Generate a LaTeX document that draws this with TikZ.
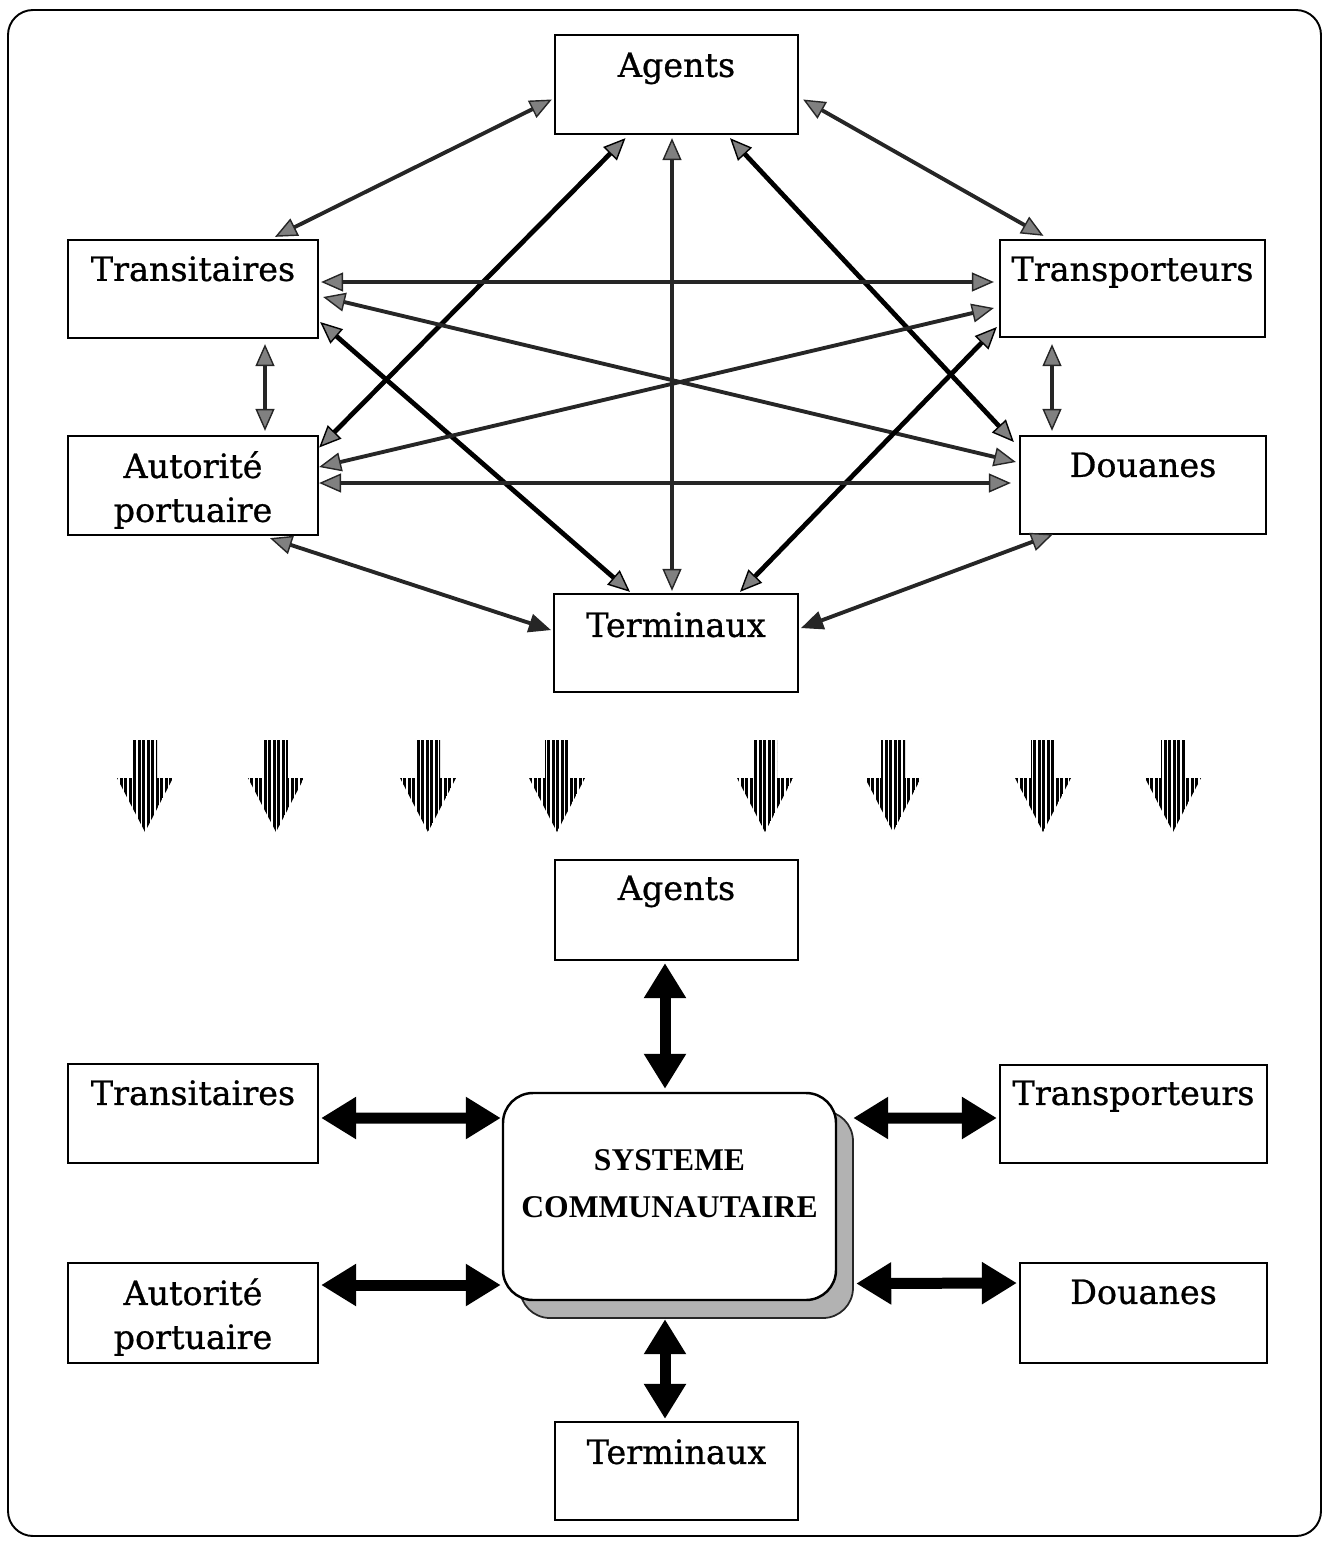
\documentclass[tikz,border=0pt]{standalone}
\usepackage{fontspec}
\newfontfamily\boxfont{DejaVu Serif}[FakeBold=0.8]
\newfontfamily\sysfont{Liberation Serif}
\usetikzlibrary{arrows.meta,fit,patterns.meta,shadows}

\tikzset{
  gtip/.tip={Triangle[length=0.44cm,width=0.38cm,fill=black!50,line width=0.8pt]},
  ktip/.tip={Triangle[length=0.44cm,width=0.38cm,line width=0.8pt]},
  bigtip/.tip={Triangle[length=0.7cm,width=0.8cm]},
  actor/.style={draw, line width=1.3pt, inner sep=0pt},
  lbl/.style={font=\boxfont\fontsize{19}{25}\selectfont, align=center, inner sep=0pt, anchor=base},
  systxt/.style={font=\sysfont\bfseries\fontsize{18}{27}\selectfont, align=center, inner sep=0pt, anchor=base},
  link/.style={gtip-gtip, line width=2.2pt, draw=black!85},
  heavylink/.style={gtip-gtip, line width=2.7pt, draw=black},
  biglink/.style={bigtip-bigtip, line width=0.22cm},
  stripedarrow/.pic={
    \fill[pattern={Lines[angle=90,distance=0.09cm,line width=0.06cm]}]
      (-12,0) -- (12,0) -- (12,38) -- (28,38) -- (0,92) -- (-28,38) -- (-12,38) -- cycle;
  }
}

\begin{document}
\begin{tikzpicture}[x=0.02cm,y=-0.02cm]
\useasboundingbox (0,0) rectangle (1325,1542);

% outer frame
\draw[line width=1.1pt, rounded corners=0.5cm] (8,10) rectangle (1321,1536);

% ---------- mesh of bilateral exchanges ----------
\node[actor, fit={(555,35)(798,134)}]   (agA) {};
\node[actor, fit={(68,240)(318,338)}]   (trA) {};
\node[actor, fit={(1000,240)(1265,337)}] (tpA) {};
\node[actor, fit={(68,436)(318,535)}]   (auA) {};
\node[actor, fit={(1020,436)(1266,534)}] (doA) {};
\node[actor, fit={(554,594)(798,692)}]  (teA) {};

% (for two-line labels the base anchor sits on the last line)
\node[lbl] (agAt) at ([shift={(0,43)}]agA.north) {Agents};
\node[lbl] (trAt) at ([shift={(0,42)}]trA.north) {Transitaires};
\node[lbl] (tpAt) at ([shift={(0,42)}]tpA.north) {Transporteurs};
\node[lbl] (auAt) at ([shift={(0,87)}]auA.north) {Autorité\\portuaire};
\node[lbl] (doAt) at ([shift={(0,42)}]doA.north) {Douanes};
\node[lbl] (teAt) at ([shift={(0,44)}]teA.north) {Terminaux};

\draw[link]      ([shift={(-2,15)}]agA.west)    -- ([shift={(82,-2)}]trA.north);
\draw[link]      ([shift={(4,15)}]agA.east)     -- ([shift={(-89,-3)}]tpA.north);
\draw[heavylink] ([shift={(-51,3)}]agA.south)   -- ([shift={(0,-38)}]auA.east);
\draw[link]      ([shift={(-4.5,3)}]agA.south)  -- ([shift={(-4,-2)}]teA.north);
\draw[heavylink] ([shift={(53.5,3)}]agA.south)  -- ([shift={(-5,-43)}]doA.west);
\draw[link]      ([shift={(2,-7)}]trA.east)     -- ([shift={(-5,-6.5)}]tpA.west);
\draw[link]      ([shift={(4,8)}]trA.east)      -- ([shift={(-3,-23)}]doA.west);
\draw[heavylink] ([shift={(1,33)}]trA.east)     -- ([shift={(-46,-1)}]teA.north);
\draw[link]      ([shift={(72,5)}]trA.south)    -- ([shift={(72,-4)}]auA.north);
\draw[link]      ([shift={(-5,19.5)}]tpA.west)  -- ([shift={(0,-18.5)}]auA.east);
\draw[heavylink] ([shift={(-2,38.5)}]tpA.west)  -- ([shift={(64,-1)}]teA.north);
\draw[link]      ([shift={(-80.5,6)}]tpA.south) -- ([shift={(-91,-4)}]doA.north);
\draw[link]      ([shift={(0,-2.5)}]auA.east)   -- ([shift={(-8,-2)}]doA.west);
\draw[link, gtip-ktip] ([shift={(77,2)}]auA.south) -- ([shift={(-2,-13)}]teA.west);
\draw[link, gtip-ktip] ([shift={(-90,-1)}]doA.south) -- ([shift={(2,-15)}]teA.east);

% ---------- transition arrows ----------
\foreach \xx in {145,276,428,557,765,893,1043,1173}
  \pic at (\xx,740) {stripedarrow};

% ---------- community system ----------
\node[actor, fit={(555,860)(798,960)}]    (agB) {};
\node[actor, fit={(68,1064)(318,1163)}]   (trB) {};
\node[actor, fit={(1000,1065)(1267,1163)}] (tpB) {};
\node[actor, fit={(68,1263)(318,1363)}]   (auB) {};
\node[actor, fit={(1020,1263)(1267,1363)}] (doB) {};
\node[actor, fit={(555,1422)(798,1520)}]  (teB) {};

\node[lbl] (agBt) at ([shift={(0,41)}]agB.north) {Agents};
\node[lbl] (trBt) at ([shift={(0,42)}]trB.north) {Transitaires};
\node[lbl] (tpBt) at ([shift={(0,41)}]tpB.north) {Transporteurs};
\node[lbl] (auBt) at ([shift={(0,87)}]auB.north) {Autorité\\portuaire};
\node[lbl] (doBt) at ([shift={(0,42)}]doB.north) {Douanes};
\node[lbl] (teBt) at ([shift={(0,43)}]teB.north) {Terminaux};

\node[actor, line width=1.4pt, fill=white, rounded corners=0.6cm,
      drop shadow={shadow xshift=0.34cm, shadow yshift=-0.36cm, fill=gray!60, draw=black!85, line width=1pt, opacity=1},
      fit={(503,1093)(836,1300)}] (sys) {};
\node[systxt] (syst) at ([shift={(0,126)}]sys.north) {SYSTEME\\COMMUNAUTAIRE};

\draw[biglink] ([shift={(-11.5,2)}]agB.south) -- ([shift={(-4.5,-3)}]sys.north);
\draw[biglink] ([shift={(2,4.5)}]trB.east)    -- ([shift={(-1,-78.5)}]sys.west);
\draw[biglink] ([shift={(16,-78.5)}]sys.east) -- ([shift={(-2,4)}]tpB.west);
\draw[biglink] ([shift={(2,-28)}]auB.east)    -- ([shift={(-1,88.5)}]sys.west);
\draw[biglink] ([shift={(19,87)}]sys.east)    -- ([shift={(-2,-30)}]doB.west);
\draw[biglink] ([shift={(-4.5,18)}]sys.south) -- ([shift={(-11.5,-2)}]teB.north);
\end{tikzpicture}
\end{document}
